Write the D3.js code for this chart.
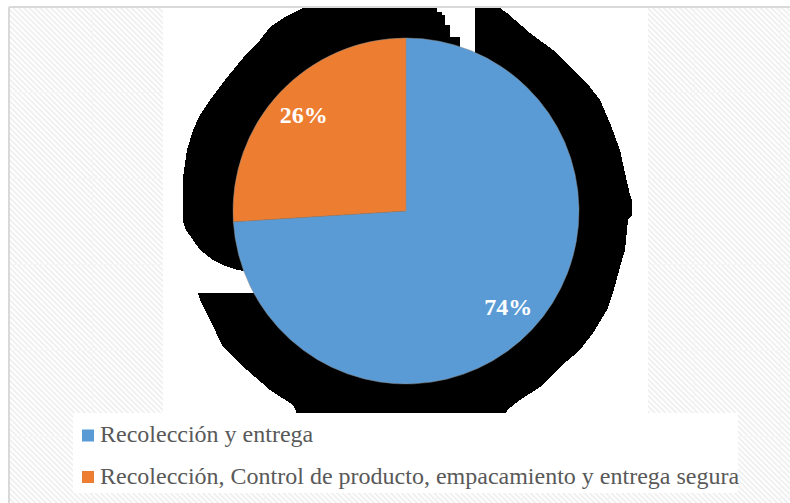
<!DOCTYPE html>
<html>
<head>
<meta charset="utf-8">
<script src="https://cdn.jsdelivr.net/npm/d3@7/dist/d3.min.js"></script>
<style>
  html, body { margin: 0; padding: 0; background: #ffffff; }
  svg { display: block; }
</style>
</head>
<body>
<svg id="chart" width="790" height="503"></svg>
<script>
// Categories and their shares (percent)
const categories = [
  "Recolección y entrega",
  "Recolección, Control de producto, empacamiento y entrega segura"
];
const values = [74, 26];
const labels = ["74%", "26%"];
const colors = ["#5b9bd5", "#ed7d31"];

const W = 790, H = 503;
const svg = d3.select("#chart");

// Hatched chart-area background
const defs = svg.append("defs");
const tile = 86;
const pat = defs.append("pattern")
  .attr("id", "hatch")
  .attr("patternUnits", "userSpaceOnUse")
  .attr("x", 6).attr("y", 6)
  .attr("width", tile).attr("height", tile);
pat.append("rect").attr("width", tile).attr("height", tile).attr("fill", "#ffffff");
const step = tile / 16;
for (let k = -17; k <= 17; k++) {
  pat.append("line")
    .attr("x1", k * step).attr("y1", 0)
    .attr("x2", k * step + tile).attr("y2", tile)
    .attr("stroke", "#f0f0f0").attr("stroke-width", 1.8);
}
pat.append("path")
  .attr("d", `M0,0.5H${tile}M0.5,0V${tile}`)
  .attr("stroke", "#f5f5f5").attr("stroke-width", 1).attr("fill", "none");

svg.append("rect")
  .attr("x", 10).attr("y", 8).attr("width", W - 10).attr("height", H - 8)
  .attr("fill", "url(#hatch)");

// Chart border (top and left edges visible)
svg.append("path")
  .attr("d", `M9,7H${W}M9,7V${H}`)
  .attr("stroke", "#d9d9d9").attr("stroke-width", 2).attr("fill", "none");

// Plot area
const plot = { x: 163, y: 8, w: 485, h: 405 };
svg.append("rect")
  .attr("x", plot.x).attr("y", plot.y).attr("width", plot.w).attr("height", plot.h)
  .attr("fill", "#ffffff");

defs.append("clipPath").attr("id", "plotClip")
  .append("rect")
  .attr("x", plot.x).attr("y", plot.y).attr("width", plot.w).attr("height", plot.h);

// Pie geometry
const cx = 406, cy = 211, R = 173;

// Dark drop shadow behind the pie
const shadowUpper = [
  [303, 8], [437, 8], [437, 12], [442, 12], [442, 15], [445, 15], [445, 25],
  [450, 25], [450, 37], [460, 37], [460, 48], [cx, cy], [245, 271],
  [237, 270], [225, 266], [213, 260], [200, 250], [193, 240], [186, 230],
  [183, 222], [183, 177], [187, 150], [193, 130], [200, 115], [210, 100],
  [225, 80], [247, 53], [260, 40], [270, 27], [285, 17]
];
const shadowLower = [
  [475, 8], [500, 8], [507, 13], [530, 33], [553, 50], [570, 67], [587, 83],
  [600, 100], [610, 123], [620, 150], [625, 173], [630, 195], [632, 200],
  [632, 215], [628, 220], [625, 250], [620, 267], [613, 293], [607, 310],
  [593, 333], [580, 350], [560, 367], [540, 387], [520, 400], [507, 410],
  [505, 420], [300, 420], [293, 405], [270, 390], [247, 370], [223, 347],
  [210, 320], [200, 300], [198, 293], [262, 293], [cx, cy], [472, 60],
  [475, 52]
];
const shadowG = svg.append("g")
  .attr("clip-path", "url(#plotClip)")
  .attr("shape-rendering", "crispEdges");
const poly = d3.line().curve(d3.curveLinearClosed);
[shadowUpper, shadowLower].forEach(pts => {
  shadowG.append("path").attr("d", poly(pts)).attr("fill", "#000000");
});

// Pie slices
const pie = d3.pie().sort(null).value(d => d)(values);
const arc = d3.arc().innerRadius(0).outerRadius(R);
const labelArc = d3.arc().innerRadius(R * 0.81).outerRadius(R * 0.81);

const g = svg.append("g").attr("transform", `translate(${cx},${cy})`);
g.selectAll("path.slice")
  .data(pie)
  .join("path")
  .attr("class", "slice")
  .attr("d", arc)
  .attr("fill", (d, i) => colors[i])
  .attr("stroke", "#8a8a8a")
  .attr("stroke-width", 0.5);

g.selectAll("text.lbl")
  .data(pie)
  .join("text")
  .attr("class", "lbl")
  .attr("transform", d => `translate(${labelArc.centroid(d)})`)
  .attr("text-anchor", "middle")
  .attr("dy", "0.35em")
  .attr("font-family", "'Liberation Serif', 'Times New Roman', serif")
  .attr("font-weight", "bold")
  .attr("font-size", 24)
  .attr("fill", "#ffffff")
  .text((d, i) => labels[i]);

// Legend
const legend = { x: 73, y: 413, w: 665, h: 80 };
svg.append("rect")
  .attr("x", legend.x).attr("y", legend.y).attr("width", legend.w).attr("height", legend.h)
  .attr("fill", "#ffffff");

const items = svg.selectAll("g.item")
  .data(categories)
  .join("g")
  .attr("class", "item")
  .attr("transform", (d, i) => `translate(82, ${442 + i * 41.5})`);
items.append("rect")
  .attr("x", 0).attr("y", -12.5).attr("width", 12).attr("height", 12)
  .attr("fill", (d, i) => colors[i]);
items.append("text")
  .attr("x", 18).attr("y", 0)
  .attr("font-family", "'Liberation Serif', 'Times New Roman', serif")
  .attr("font-size", 24)
  .attr("fill", "#595959")
  .text(d => d);
</script>
</body>
</html>
